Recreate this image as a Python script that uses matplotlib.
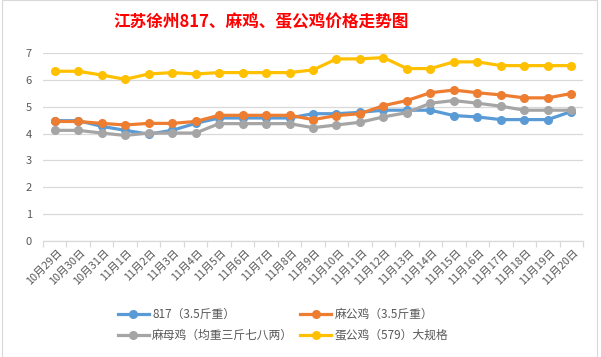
import matplotlib
matplotlib.use("Agg")
import matplotlib.pyplot as plt
from matplotlib.lines import Line2D
from matplotlib.patches import Rectangle

plt.rcParams['font.family'] = ['Noto Sans CJK SC', 'DejaVu Sans']

dates = ["10月29日", "10月30日", "10月31日"] + [f"11月{d}日" for d in range(1, 21)]

s817 = [4.48, 4.48, 4.27, 4.12, 3.98, 4.12, 4.38, 4.58, 4.58, 4.58, 4.58,
        4.74, 4.74, 4.79, 4.87, 4.87, 4.87, 4.67, 4.62, 4.52, 4.52, 4.52, 4.82]
magong = [4.45, 4.45, 4.38, 4.32, 4.38, 4.38, 4.45, 4.68, 4.68, 4.68, 4.68,
          4.52, 4.67, 4.74, 5.04, 5.23, 5.52, 5.62, 5.52, 5.44, 5.33, 5.33, 5.49]
mamu = [4.12, 4.12, 4.02, 3.93, 4.02, 4.02, 4.02, 4.37, 4.37, 4.37, 4.37,
        4.22, 4.32, 4.42, 4.62, 4.78, 5.13, 5.23, 5.13, 5.02, 4.87, 4.87, 4.87]
dangong = [6.32, 6.32, 6.18, 6.02, 6.22, 6.27, 6.22, 6.27, 6.27, 6.27, 6.27,
           6.37, 6.78, 6.78, 6.83, 6.42, 6.42, 6.67, 6.67, 6.53, 6.53, 6.53, 6.53]

series = [
    ("817（3.5斤重）", s817, "#5B9BD5"),
    ("麻公鸡（3.5斤重）", magong, "#ED7D31"),
    ("麻母鸡（均重三斤七八两）", mamu, "#A5A5A5"),
    ("蛋公鸡（579）大规格", dangong, "#FFC000"),
]
yticks = [0, 1, 2, 3, 4, 5, 6, 7]

W, H = 601, 357
fig = plt.figure(figsize=(W / 100, H / 100), dpi=100)
fig.patches.append(Rectangle((0.004, 0.0), 0.99, 0.999, transform=fig.transFigure,
                             fill=False, edgecolor="#D9D9D9", lw=0.8))

ax = fig.add_axes([43 / W, 1 - 241 / H, 540 / W, 188 / H])
x = list(range(len(dates)))
for name, vals, col in series:
    ax.plot(x, vals, color=col, lw=2.3, marker="o", markersize=5.5,
            label=name, solid_capstyle="round")

ax.set_xlim(-0.5, len(dates) - 0.5)
ax.set_ylim(0, 7)
ax.set_yticks(yticks)
ax.set_yticklabels([str(v) for v in yticks], fontsize=8, color="#595959")
ax.tick_params(axis="y", length=0, pad=8)
ax.grid(axis="y", color="#D9D9D9", lw=0.9)
ax.set_axisbelow(True)
for s in ["left", "right", "top"]:
    ax.spines[s].set_visible(False)
ax.spines["bottom"].set_color("#D9D9D9")
ax.spines["bottom"].set_linewidth(0.9)

ax.set_xticks([i - 0.5 for i in range(len(dates) + 1)], minor=False)
ax.set_xticklabels([])
ax.tick_params(axis="x", length=4, color="#D9D9D9", width=0.9)
for i, d in enumerate(dates):
    ax.annotate(d, xy=(i, 0), xycoords="data", xytext=(4, -7), textcoords="offset points",
                rotation=45, rotation_mode="anchor", ha="right", va="center",
                fontsize=7.8, color="#595959")

fig.text(261 / W, 1 - 22 / H, "江苏徐州817、麻鸡、蛋公鸡价格走势图", color="#FF0000",
         fontsize=12, fontweight="bold", ha="center", va="center")

order = [0, 2, 1, 3]  # column-major filling -> rows: (817, 麻公鸡), (麻母鸡, 蛋公鸡)
handles = [Line2D([0], [0], color=series[k][2], lw=2.3, marker="o", markersize=5.5) for k in order]
labels = [series[k][0] for k in order]
leg = fig.legend(handles, labels, loc="upper left", bbox_to_anchor=(118 / W, 1 - 308 / H), ncol=2,
                 frameon=False, fontsize=8.5, handlelength=2.6, columnspacing=0.6,
                 labelspacing=0.65, handletextpad=0.3, borderaxespad=0, borderpad=0)
for t in leg.get_texts():
    t.set_color("#595959")

fig.savefig("out.png", dpi=100)
